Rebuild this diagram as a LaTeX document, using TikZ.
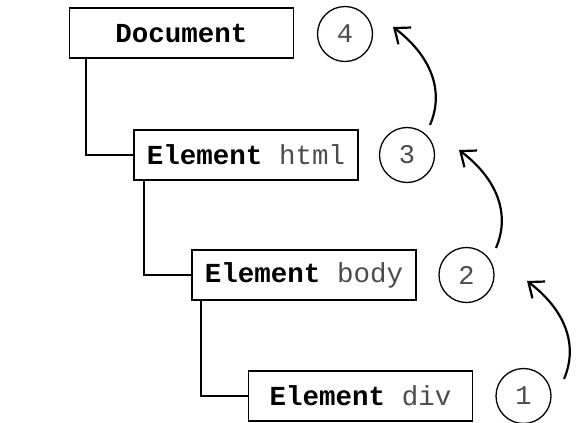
\documentclass[tikz,border=0pt]{standalone}
\usepackage{fontspec}
\setmonofont{Liberation Mono}
\usetikzlibrary{arrows.meta}

\tikzset{
  elem/.style={draw, line width=1.4pt, minimum width=224pt, minimum height=50pt,
    inner sep=0pt, font=\ttfamily\fontsize{27.5}{27.5}\selectfont},
  num/.style={draw, circle, line width=1.3pt, minimum size=55pt, inner sep=0pt,
    text=black!70, font=\ttfamily\fontsize{27}{27}\selectfont},
  link/.style={line width=1.8pt},
  hop/.style={-{Straight Barb[length=13pt,width=21pt]}, line width=2.2pt}
}
\newcommand{\tagname}[1]{{\color{black!70}#1}}

\begin{document}
\begin{tikzpicture}[x=1pt,y=-1pt]
\useasboundingbox[fill=white] (0,0) rectangle (584,423);

\node [elem] (doc) at (181.5,33) {\textbf{Document}};
\node [num] (n4) at (345,34) {4};

\node [elem] (html) at (246,155) {\textbf{Element} \tagname{html}};
\node [num] (n3) at (407,155) {3};

\node [elem] (body) at (304,275) {\textbf{Element} \tagname{body}};
\node [num] (n2) at (466.5,275) {2};

\node [elem] (div) at (360.5,396) {\textbf{Element} \tagname{div}};
\node [num] (n1) at (523.5,396) {1};

% tree links
\draw[link] ([xshift=17pt]doc.south west) |- (html.west);
\draw[link] ([xshift=11pt]html.south west) |- (body.west);
\draw[link] ([xshift=10pt]body.south west) |- (div.west);

% walking up the tree
\coordinate (up1s) at (564,379);
\coordinate (up1e) at (527,281);
\coordinate (up2s) at (496,248);
\coordinate (up2e) at (459,150);
\coordinate (up3s) at (430,125);
\coordinate (up3e) at (393,27);

\draw[hop] (up1s) .. controls (579,344) and (564,309) .. (up1e);
\draw[hop] (up2s) .. controls (511,213) and (496,178) .. (up2e);
\draw[hop] (up3s) .. controls (445,90) and (430,55) .. (up3e);

\end{tikzpicture}
\end{document}
